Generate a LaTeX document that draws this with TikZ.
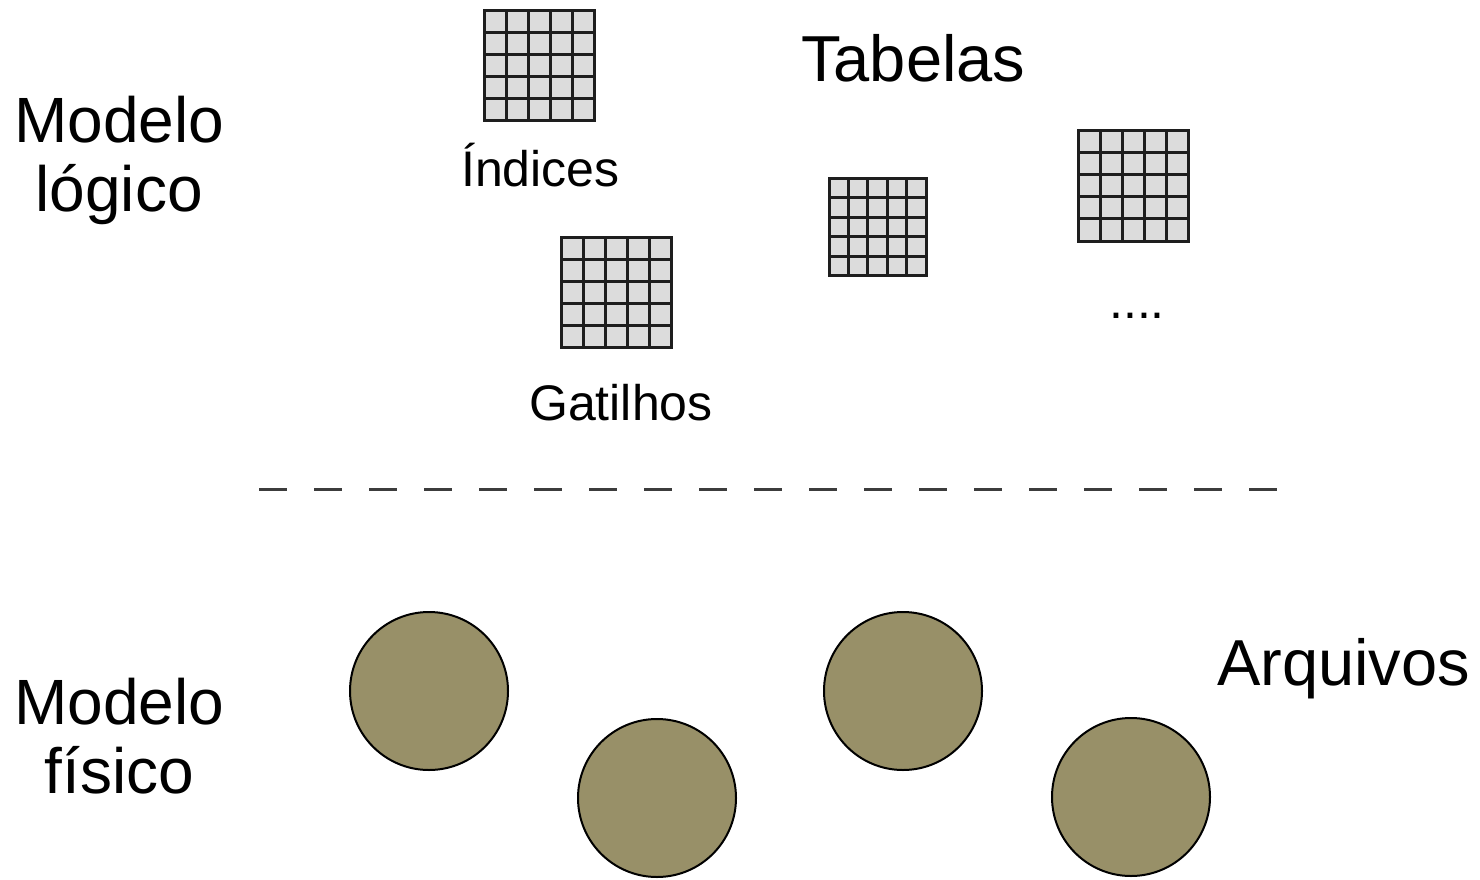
\documentclass[tikz,border=0pt]{standalone}
\usepackage{fontspec}
\setmainfont{Liberation Sans}
\usetikzlibrary{calc}
\definecolor{gridfill}{HTML}{DCDCDC}
\definecolor{gridline}{HTML}{1E1E1E}
\definecolor{olive}{HTML}{989068}
\definecolor{dashgray}{HTML}{3C3C3C}
\tikzset{
  gridbox/.style={draw=gridline, fill=gridfill, line width=3pt, inner sep=0pt,
    minimum width=#1, minimum height=#1,
    path picture={
      \foreach \i in {1,...,4}{
        \draw[gridline, line width=3pt]
          ($(path picture bounding box.north west)!\i/5!(path picture bounding box.north east)$) --
          ($(path picture bounding box.south west)!\i/5!(path picture bounding box.south east)$);
        \draw[gridline, line width=3pt]
          ($(path picture bounding box.north west)!\i/5!(path picture bounding box.south west)$) --
          ($(path picture bounding box.north east)!\i/5!(path picture bounding box.south east)$);
      }
    }},
  disk/.style={circle, draw=black, line width=2pt, fill=olive, minimum size=158pt, inner sep=0pt},
  bigtext/.style={anchor=base west, inner sep=0pt, align=center, font=\fontsize{64}{69}\selectfont},
  smalltext/.style={anchor=base west, inner sep=0pt, font=\fontsize{50}{56}\selectfont},
  sep/.style={draw=dashgray, line width=3pt, dash pattern=on 28pt off 27pt}
}
\begin{document}
\begin{tikzpicture}[x=1pt, y=-1pt]
\useasboundingbox (0,0) rectangle (1480,880);
% labels
\node[bigtext] (logico) at (14,211) {Modelo\\lógico};
\node[bigtext] (fisico) at (14,793) {Modelo\\físico};
\node[bigtext, font=\fontsize{65}{70}\selectfont] (tabelas) at (801,82) {Tabelas};
\node[bigtext, font=\fontsize{65}{70}\selectfont] (arquivos) at (1217,685) {Arquivos};
\node[smalltext] (indices) at (461,186) {Índices};
\node[smalltext] (gatilhos) at (529,420) {Gatilhos};
\node[smalltext] (dots) at (1109,318) {....};
% grids
\node[gridbox=110pt] (g1) at (539.5,65.5) {};
\node[gridbox=110pt] (g2) at (616.5,292) {};
\node[gridbox=97pt] (g3) at (877.5,227) {};
\node[gridbox=110pt] (g4) at (1133.5,186) {};
% separator
\coordinate (dl) at (259,489);
\coordinate (dr) at (1283,489);
\draw[sep] (dl) -- (dr);
% files
\node[disk] (f1) at (429,691) {};
\node[disk] (f2) at (657,798) {};
\node[disk] (f3) at (903,691) {};
\node[disk] (f4) at (1131,797) {};
\end{tikzpicture}
\end{document}
